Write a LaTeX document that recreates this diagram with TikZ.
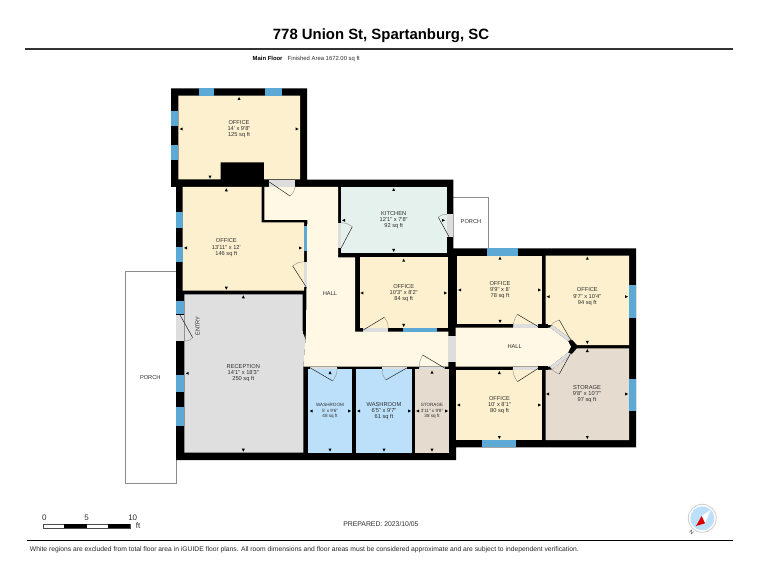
\documentclass[tikz,border=0pt]{standalone}
\usepackage{fontspec}
\usetikzlibrary{calc}
\newfontfamily\lib{Liberation Sans}
\definecolor{off}{HTML}{FDF0CE}
\definecolor{hallc}{HTML}{FFF8E4}
\definecolor{kit}{HTML}{E4F1EC}
\definecolor{rec}{HTML}{DFDFDF}
\definecolor{wash}{HTML}{BCE0FA}
\definecolor{stor}{HTML}{E5DCCF}
\definecolor{win}{HTML}{5DA9D5}
\definecolor{gap}{HTML}{DDDDDD}
\definecolor{txt}{HTML}{2E2E2E}
\tikzset{
  every node/.style={inner sep=0pt,outer sep=0pt,text=txt},
  lbl/.style={font=\lib\fontsize{5.7}{6.2}\selectfont,align=center},
  lblsm/.style={font=\lib\fontsize{4.6}{5.6}\selectfont,align=center},
  leaf/.style={draw=black!85,line width=0.5pt},
  arcl/.style={draw=black!45,line width=0.4pt},
  foot/.style={font=\lib\fontsize{6.85}{8}\selectfont},
  scalenum/.style={font=\lib\fontsize{8}{9}\selectfont}
}
\newcommand{\win}[4]{\fill[win] (#1,#2) rectangle (#3,#4);}
\newcommand{\gp}[4]{\fill[gap] (#1,#2) rectangle (#3,#4);}
\newcommand{\tri}[3]{\fill[black,shift={(#1,#2)},rotate=#3] (2,0)--(-1,1.5)--(-1,-1.5)--cycle;}
\newcommand{\door}[4]{%
  \coordinate (#1h) at (#2); \coordinate (#1t) at (#3); \coordinate (#1e) at (#4);
  \draw[leaf] (#1h)--(#1t);
  \draw[arcl] (#1t) .. controls ($0.53*(#1t)+0.53*(#1e)-0.06*(#1h)$) .. (#1e);}
\begin{document}
\begin{tikzpicture}[x=1pt,y=-1pt]
\useasboundingbox (0,0) rectangle (761,588);
\fill[white] (0,0) rectangle (761,588);
% header
\node[font=\lib\bfseries\fontsize{14.9}{16}\selectfont,text=black] (title) at (381,35.7) {778 Union St, Spartanburg, SC};
\fill[black!80] (25,48) rectangle (733,50);
\node[font=\lib\bfseries\fontsize{5.9}{8}\selectfont,text=black,anchor=west] (floor) at (252.7,58.8) {Main Floor};
\node[font=\lib\fontsize{5.9}{8}\selectfont,anchor=west] (area) at (287.7,58.8) {Finished Area 1672.00 sq ft};
% porches
\draw[black!45,line width=0.7pt] (176,271.7) -- (125,271.7) -- (125,483.3) -- (176,483.3) -- (176,460);
\draw[black!45,line width=0.7pt] (453.3,197.3) -- (488.6,197.3) -- (488.6,248.3);
% footprint
\fill[black] (171,88.3)--(307,88.3)--(307,179.7)--(453.3,179.7)--(453.3,248.3)--(636,248.3)--(636,447.3)--(456,447.3)--(456,460)--(176,460)--(176,187)--(171,187)--cycle;
% rooms
\fill[off] (178.3,95.7)--(300,95.7)--(300,179.3)--(264,179.3)--(264,162.3)--(220.7,162.3)--(220.7,179.3)--(178.3,179.3)--cycle;
\fill[off] (182.7,187)--(261.5,187)--(261.5,222.3)--(304,222.3)--(304,290.7)--(182.7,290.7)--cycle;
\fill[kit] (341,187) rectangle (446.7,253.3);
\fill[off] (360,257.3) rectangle (448.3,328.3);
\fill[rec] (184.3,294.3)--(302.7,294.3)--(302.7,331)--(305.5,340)--(303.3,366.7)--(303.3,452.7)--(184.3,452.7)--cycle;
\fill[hallc] (264.4,187)--(338,187)--(338,257.3)--(355,257.3)--(355,331.7)--(448.3,331.7)--(448.3,366.7)--(303.3,366.7)--(305.5,340)--(306,331)--(307.3,220)--(264.4,220)--cycle;
\fill[wash] (308.3,369.3) rectangle (351.7,452.7);
\fill[wash] (356,369.3) rectangle (411.7,452.7);
\fill[stor] (415,369.3) rectangle (449.3,452.7);
\fill[off] (457.3,255.7) rectangle (542.3,324.3);
\fill[off] (545.7,255.7)--(629,255.7)--(629,345)--(577,345)--(572,339.5)--(552,325)--(545.7,325)--cycle;
\fill[off] (455.7,369.7) rectangle (542.3,440);
\fill[stor] (545.7,369.7)--(552,369.7)--(572,354)--(577,348.3)--(629,348.3)--(629,440)--(545.7,440)--cycle;
\fill[hallc] (455.7,327.7)--(550,327.7)--(568,341)--(571,346.7)--(568,352.5)--(550,366.5)--(455.7,366.5)--cycle;
% windows
\win{199.3}{88.3}{214.3}{95.7}
\win{265}{88.3}{281.7}{95.7}
\win{171}{110.7}{178.3}{126}
\win{171}{145}{178.3}{160}
\win{175.7}{212.3}{182.7}{228.3}
\win{175.7}{246.7}{182.7}{261.7}
\win{304}{226}{307.3}{250.7}
\win{176}{301}{184.3}{314}
\win{176}{375}{184.3}{391.7}
\win{176}{407.3}{184.3}{425.7}
\win{402.7}{328.3}{436.7}{331.7}
\win{486.7}{248.3}{517.7}{255.7}
\win{629}{285}{636}{318.3}
\win{629}{379}{636}{410.7}
\win{481.7}{440}{516}{447.3}
% door gaps
\gp{269.3}{179.7}{295}{187}
\gp{304}{261.7}{307.3}{286.7}
\gp{338}{222.7}{341}{248.3}
\gp{446.7}{214.3}{453.3}{236.7}
\gp{363.3}{328.3}{388.3}{331.7}
\gp{176}{315}{184.3}{341}
\gp{310}{366.7}{336.7}{369.3}
\gp{382.3}{366.7}{406.7}{369.3}
\gp{419.3}{366.7}{445}{369.3}
\gp{448.3}{335.7}{455.7}{362}
\gp{513.3}{324.3}{538.3}{327.7}
\gp{513}{366.5}{538.3}{369.7}
\fill[gap] (550,327.7)--(552,325)--(572,339.5)--(568,341)--cycle;
\fill[gap] (550,366.5)--(552,369.7)--(572,354)--(568,352.5)--cycle;
\fill[black] (538.3,324.3) rectangle (548,328);
\fill[black] (538.3,366) rectangle (548,369.7);
% door leaves
\door{da}{269.3,182}{290,196}{295,187}
\door{db}{306,286.7}{292.7,266}{304,261.7}
\door{dc}{341,248.3}{352.3,226.7}{341,222.7}
\door{dd}{449,236.7}{438.3,217.3}{446.7,214.3}
\door{de}{363.3,330}{384.3,317.3}{388.3,328.3}
\door{df}{180,315}{192.7,337.7}{184.3,341}
\door{dg}{310,367.7}{332.7,381}{337.3,368}
\door{dh}{406.7,368}{385.7,380}{382.3,369}
\door{di}{445,368.3}{422.7,355}{419.3,368.3}
\door{dj}{538.3,326.7}{517.3,314.3}{513.3,326.7}
\door{dk}{538.3,368.3}{517.3,381.7}{512.7,368.3}
\door{dl}{571.7,341.7}{559.3,320}{550,326.7}
\door{dm}{571,352.7}{559.3,374}{550,367}
% dimension ticks
\tri{239}{99}{90}\tri{210}{176.7}{-90}\tri{181.7}{129}{180}\tri{296.7}{129}{0}
\tri{226.3}{190.3}{90}\tri{226.3}{287.7}{-90}\tri{186}{248}{180}\tri{300}{248}{0}
\tri{393.7}{190}{90}\tri{393.7}{250}{-90}\tri{344}{220.3}{180}\tri{443}{220.3}{0}
\tri{403.7}{260.7}{90}\tri{403.7}{325}{-90}\tri{362.3}{293}{180}\tri{445}{293}{0}
\tri{243.3}{297.3}{90}\tri{243.3}{449.7}{-90}\tri{187.7}{373.3}{180}\tri{304}{333}{0}
\tri{330}{373}{90}\tri{330}{449.7}{-90}\tri{311.7}{411}{180}\tri{349}{411}{0}
\tri{384}{449.7}{-90}\tri{359}{411}{180}\tri{409}{411}{0}
\tri{432}{372.7}{90}\tri{432}{449.7}{-90}\tri{418}{411}{180}\tri{446}{411}{0}
\tri{500}{258.7}{90}\tri{500}{321}{-90}\tri{460}{290}{180}\tri{539}{290}{0}
\tri{587.3}{258.7}{90}\tri{587.3}{342}{-90}\tri{548.7}{296.7}{180}\tri{626}{296.7}{0}
\tri{587.3}{351}{90}\tri{587.3}{437}{-90}\tri{548}{394}{180}\tri{626}{394}{0}
\tri{499.3}{373}{90}\tri{499.3}{437}{-90}\tri{459}{405}{180}\tri{539}{405}{0}
% labels
\node[lbl] (r1) at (239,129) {OFFICE\\14' x 9'8"\\125 sq ft};
\node[lbl] (r2) at (226.3,247.7) {OFFICE\\13'11" x 12'\\146 sq ft};
\node[lbl] (r3) at (393.7,220.3) {KITCHEN\\12'1" x 7'8"\\92 sq ft};
\node[lbl] (r4) at (403.7,293) {OFFICE\\10'3" x 8'2"\\84 sq ft};
\node[lbl] (r5) at (330,293.3) {HALL};
\node[lbl] (r6) at (243.3,373.3) {RECEPTION\\14'1" x 18'3"\\250 sq ft};
\node[lblsm] (r7) at (330,411) {WASHROOM\\5' x 9'6"\\48 sq ft};
\node[lbl] (r8) at (384,411) {WASHROOM\\6'5" x 9'7"\\61 sq ft};
\node[lblsm] (r9) at (432,411) {STORAGE\\3'11" x 9'8"\\38 sq ft};
\node[lbl] (r10) at (500,290) {OFFICE\\9'9" x 8'\\78 sq ft};
\node[lbl] (r11) at (587.3,296.7) {OFFICE\\9'7" x 10'4"\\94 sq ft};
\node[lbl] (r12) at (587,394) {STORAGE\\9'8" x 10'7"\\97 sq ft};
\node[lbl] (r13) at (499.5,405) {OFFICE\\10' x 8'1"\\80 sq ft};
\node[lbl] (r14) at (514.7,347) {HALL};
\node[lbl] (r15) at (150.3,377.3) {PORCH};
\node[lbl] (r16) at (471,222) {PORCH};
\node[lbl,rotate=90] (r17) at (197.7,326) {ENTRY};
% scale bar
\draw[black!70,line width=0.4pt,fill=white] (42.7,524) rectangle (130.3,528);
\fill[black] (64,524) rectangle (86.7,528);
\fill[black] (107.7,524) rectangle (130.3,528);
\node[scalenum] (s0) at (44.3,518) {0};
\node[scalenum] (s5) at (86.7,518) {5};
\node[scalenum] (s10) at (132.7,518) {10};
\node[scalenum] (sft) at (138,526) {ft};
\node[foot,anchor=west] (prep) at (343.3,524.5) {PREPARED: 2023/10/05};
\fill[black] (27,539.5) rectangle (733,540.5);
\node[font=\lib\fontsize{6.74}{7}\selectfont,anchor=west,text=black!85] (note) at (30,549.5) {White regions are excluded from total floor area in iGUIDE floor plans. All room dimensions and floor areas must be considered approximate and are subject to independent verification.};
% compass
\coordinate (cc) at (702.3,518.3);
\draw[black!20,line width=0.8pt,fill=white] (cc) circle (14);
\fill[wash] (cc) circle (12);
\fill[white] (701.7,516)--(710.7,510)--(705,523.3)--cycle;
\fill[red!85!black] (696,526)--(701.7,516)--(705,523.3)--cycle;
\node[font=\lib\fontsize{5.5}{6}\selectfont,rotate=135] (north) at (691.7,532.3) {N};
\end{tikzpicture}
\end{document}
